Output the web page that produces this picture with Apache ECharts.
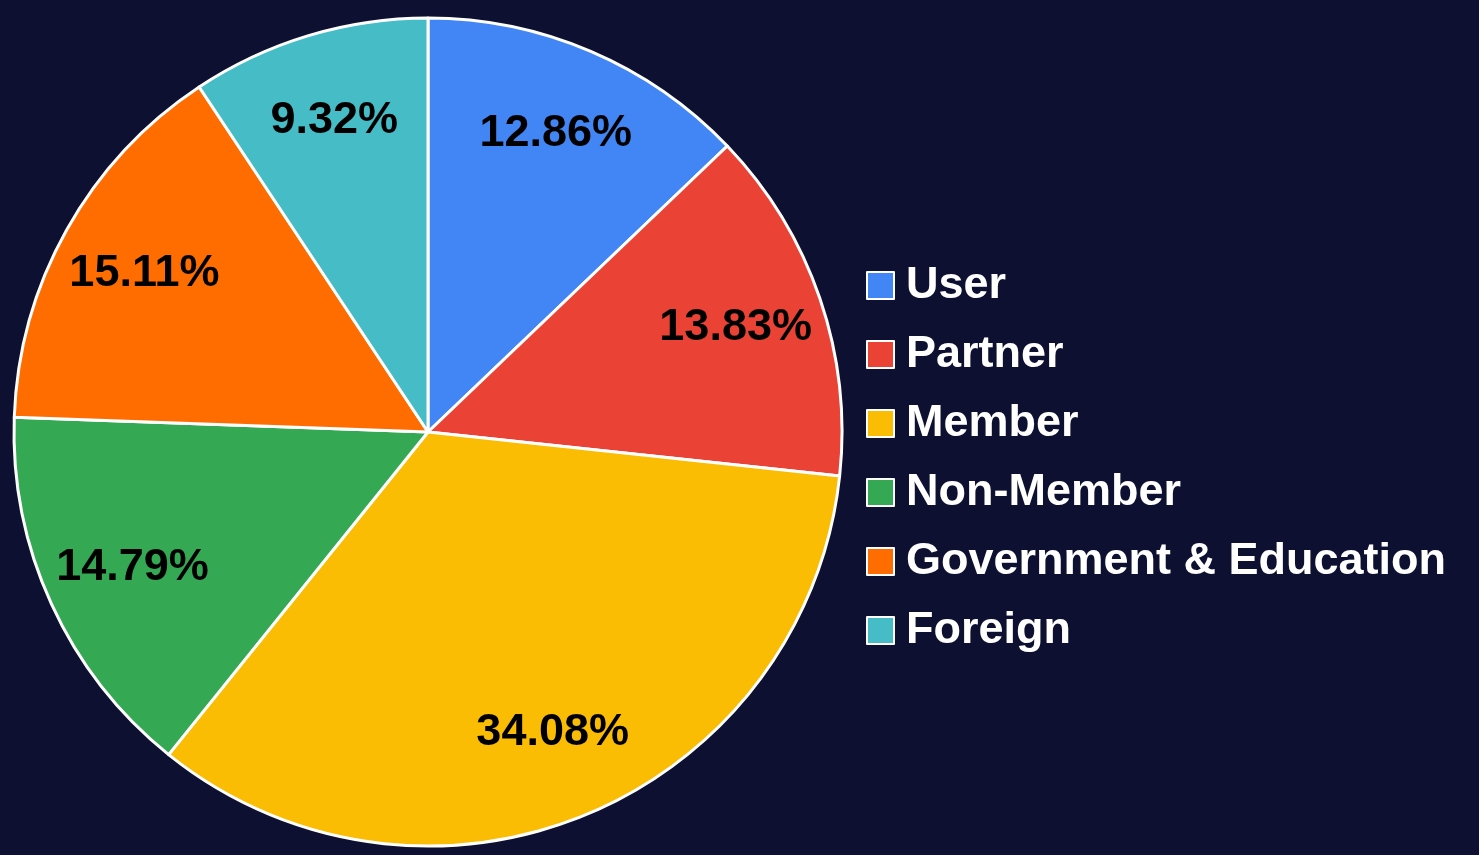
<!DOCTYPE html>
<html>
<head>
<meta charset="utf-8">
<script src="https://cdn.jsdelivr.net/npm/echarts@6/dist/echarts.min.js"></script>
<style>
  html, body { margin: 0; padding: 0; background: #0d1030; }
  #chart { width: 1479px; height: 855px; }
</style>
</head>
<body>
<div id="chart"></div>
<script>
var categories = ['User', 'Partner', 'Member', 'Non-Member', 'Government & Education', 'Foreign'];
var shares = [12.86, 13.83, 34.08, 14.79, 15.11, 9.32];
var colors = ['#4285f4', '#ea4335', '#fbbc04', '#34a853', '#ff6d01', '#46bdc6'];

var pieData = categories.map(function (name, i) {
    return { name: name, value: shares[i] };
});

var myChart = echarts.init(document.getElementById('chart'));
var option = {
    backgroundColor: '#0d1030',
    color: colors,
    animation: false,
    legend: {
        orient: 'vertical',
        left: 861,
        top: 258,
        icon: 'rect',
        itemWidth: 27,
        itemHeight: 27,
        itemGap: 24,
        itemStyle: { borderColor: '#ffffff', borderWidth: 2 },
        textStyle: {
            color: '#ffffff',
            fontSize: 45,
            fontWeight: 'bold',
            fontFamily: 'Liberation Sans, Arial, sans-serif',
            lineHeight: 45,
            padding: [0, 0, 0, 7]
        },
        data: categories
    },
    series: [
        {
            // the pie itself
            type: 'pie',
            center: [428, 432],
            radius: [0, 414],
            startAngle: 90,
            clockwise: true,
            itemStyle: { borderColor: '#ffffff', borderWidth: 3 },
            label: { show: false },
            labelLine: { show: false },
            emphasis: { disabled: true },
            data: pieData
        },
        {
            // invisible ring just to place the labels further out
            type: 'pie',
            center: [428, 432],
            radius: [230, 414],
            startAngle: 90,
            clockwise: true,
            silent: true,
            itemStyle: { color: 'rgba(0,0,0,0)', borderWidth: 0 },
            label: {
                show: true,
                position: 'inside',
                color: '#000000',
                fontSize: 45,
                fontWeight: 'bold',
                fontFamily: 'Liberation Sans, Arial, sans-serif',
                formatter: function (p) { return p.value.toFixed(2) + '%'; }
            },
            labelLine: { show: false },
            emphasis: { disabled: true },
            data: pieData
        }
    ]
};
myChart.setOption(option);
</script>
</body>
</html>
